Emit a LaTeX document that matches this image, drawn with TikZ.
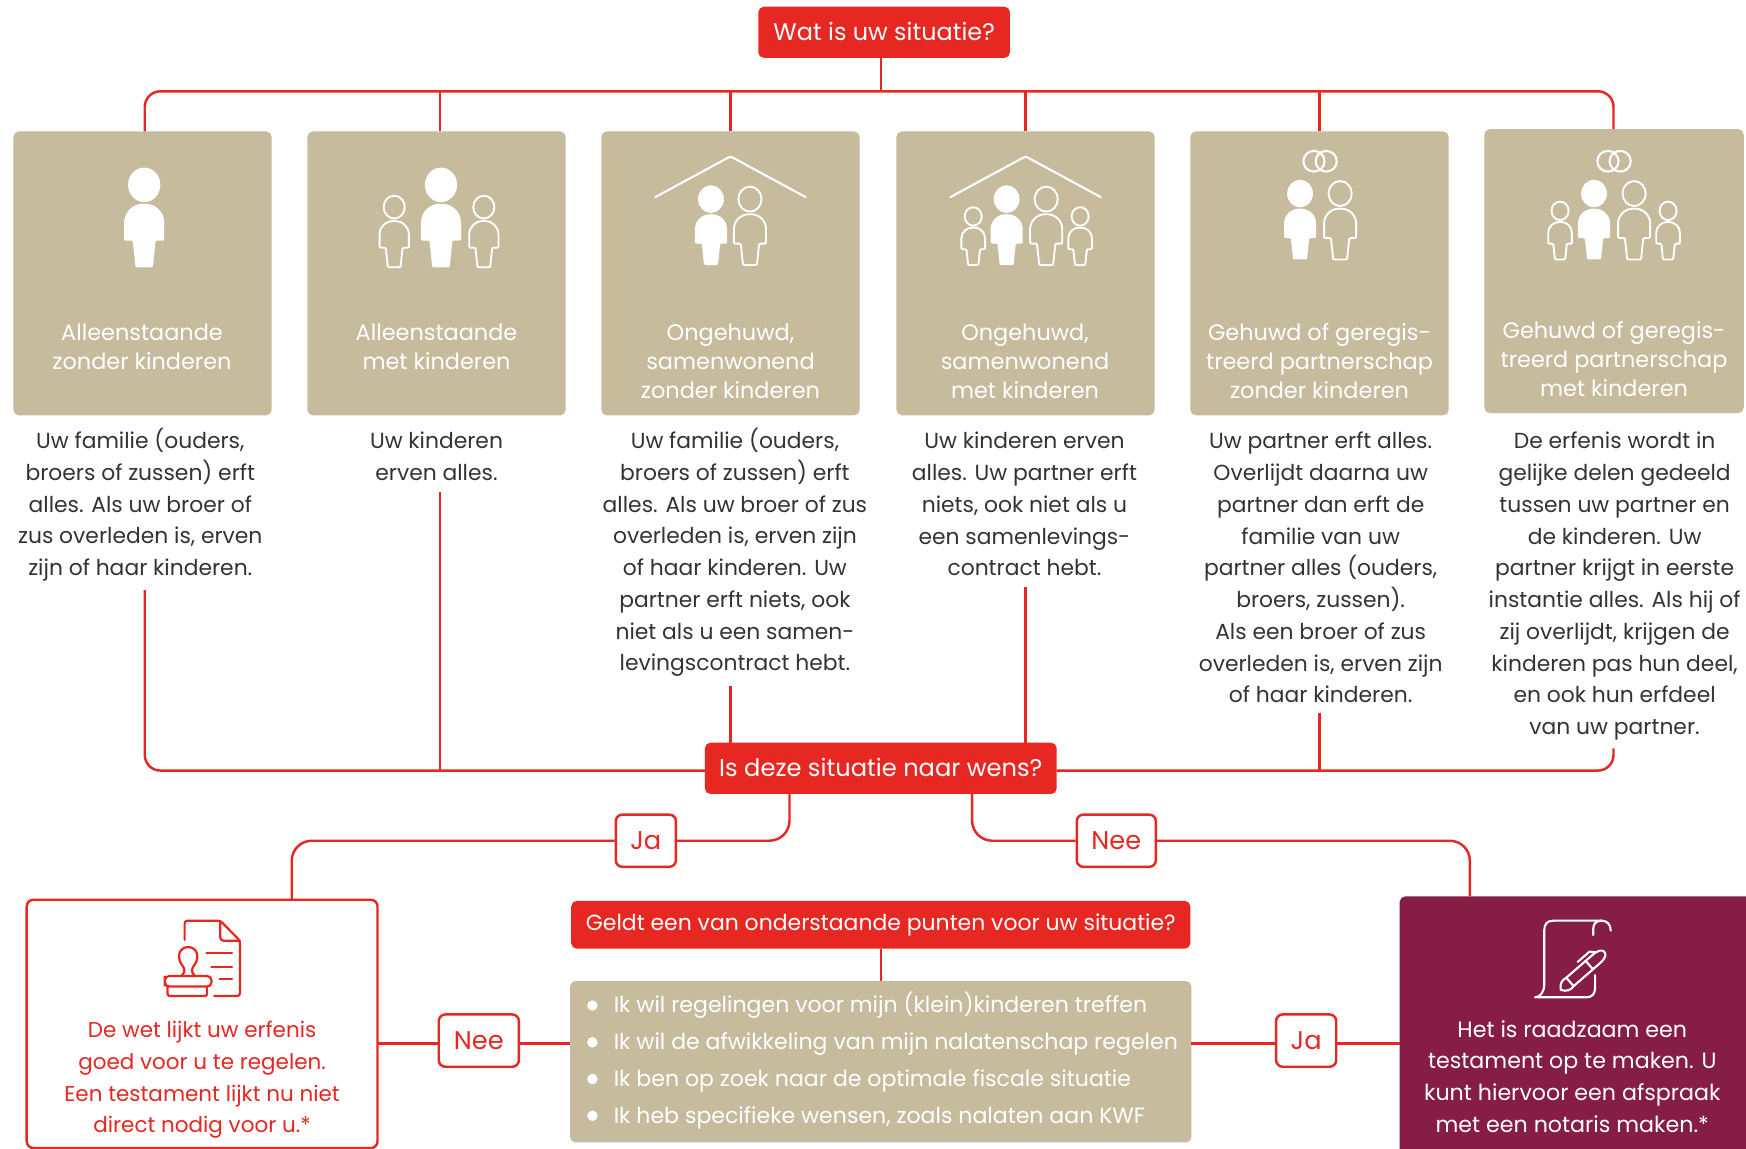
\documentclass[tikz,border=0pt]{standalone}
\usepackage{fontspec}
\setmainfont{Poppins}
\definecolor{rd}{HTML}{E62722}
\definecolor{tan}{HTML}{C7BB9D}
\definecolor{maroon}{HTML}{861D44}
\newcommand{\fz}[2]{\fontsize{#1}{#2}\selectfont}
\newcommand{\bodypath}{(-7.8,0) -- (-10.3,-24) -- (-18,-24) -- (-18,-39)
      .. controls (-18,-50) and (-10,-57) .. (0,-57)
      .. controls (10,-57) and (18,-50) .. (18,-39)
      -- (18,-24) -- (10.3,-24) -- (7.8,0) -- cycle}
\newcommand{\personicon}[3]{%
  \begin{scope}[shift={(#1,#2)},scale=#3]
    \path[solidp] (0,-74) ellipse [x radius=14.5,y radius=15.5];
    \path[solidp,rounded corners=1pt] \bodypath;
  \end{scope}}
\newcommand{\hollowicon}[3]{%
  \begin{scope}[shift={(#1,#2)},scale=#3]
    \path[hollowp] (0,-74) ellipse [x radius=13,y radius=14];
    \path[hollowp,rounded corners=1pt] \bodypath;
  \end{scope}}
\newcommand{\roof}[1]{\draw[iconline] (#1-67.5,177) -- (#1-2,141.5) -- (#1,141) -- (#1+2,141.5) -- (#1+67.5,177);}
\newcommand{\rings}[1]{\draw[iconline] (#1-5.5,144.8) ellipse [x radius=9.5,y radius=9.3];\draw[iconline] (#1+5.5,144.8) ellipse [x radius=9.5,y radius=9.3];}
\tikzset{
  conn/.style={draw=rd,line width=2.2pt},
  round/.style={conn,rounded corners=14pt},
  tanbox/.style={fill=tan,rounded corners=5pt,inner sep=0pt},
  redbox/.style={fill=rd,rounded corners=5pt,inner sep=0pt,text=white},
  tag/.style={draw=rd,line width=2.2pt,fill=white,rounded corners=6pt,inner sep=0pt,text=rd,font=\fz{23}{25}},
  ctitle/.style={text=white,align=center,inner sep=0pt,anchor=north,font=\fz{20.1}{26}},
  desc/.style={text=black!80,align=center,inner sep=0pt,anchor=north,font=\fz{19.6}{28.5}},
  res/.style={align=center,inner sep=0pt,anchor=north,font=\fz{19.3}{28.5}},
  lst/.style={text=white,inner sep=0pt,anchor=base west,font=\fz{19.8}{22}},
  solidp/.style={fill=white},
  hollowp/.style={draw=white,line width=1.7pt},
  iconline/.style={draw=white,line width=1.9pt,line cap=round,line join=round},
  redline/.style={draw=rd,line width=2pt,line cap=round,line join=round},
}
\begin{document}
\begin{tikzpicture}[x=1pt,y=-1pt]
\useasboundingbox (0,0) rectangle (1568,1031.8);
% boxes
\node[redbox,minimum width=226pt,minimum height=46pt,font=\fz{21.5}{25}] (top) at (794,29) {\raisebox{1pt}{Wat is uw situatie?}};
\foreach \n/\x in {b1/128,b2/392,b3/656,b4/921,b5/1185}
  \node[tanbox,minimum width=232pt,minimum height=255pt] (\n) at (\x,245.5) {};
\node[tanbox,minimum width=233pt,minimum height=255pt] (b6) at (1449.5,243.5) {};
% titles
\node[ctitle] (t1) at (127.5,290.5) {Alleenstaande\\zonder kinderen};
\node[ctitle] (t2) at (392,290.5) {Alleenstaande\\met kinderen};
\node[ctitle] (t3) at (656,290.5) {Ongehuwd,\\samenwonend\\zonder kinderen};
\node[ctitle] (t4) at (920.5,290.5) {Ongehuwd,\\samenwonend\\met kinderen};
\node[ctitle] (t5) at (1185,290.5) {Gehuwd of geregis-\\treerd partnerschap\\zonder kinderen};
\node[ctitle] (t6) at (1449.5,288.5) {Gehuwd of geregis-\\treerd partnerschap\\met kinderen};
% descriptions
\node[desc] (d1) at (126,384.5) {Uw familie (ouders,\\broers of zussen) erft\\alles. Als uw broer of\\zus overleden is, erven\\zijn of haar kinderen.};
\node[desc] (d2) at (392,388) {Uw kinderen\\erven alles.};
\node[desc] (d3) at (660,384.5) {Uw familie (ouders,\\broers of zussen) erft\\alles. Als uw broer of zus\\overleden is, erven zijn\\of haar kinderen. Uw\\partner erft niets, ook\\niet als u een samen-\\levingscontract hebt.};
\node[desc] (d4) at (920,388) {Uw kinderen erven\\alles. Uw partner erft\\niets, ook niet als u\\een samenlevings-\\contract hebt.};
\node[desc] (d5) at (1186,388) {Uw partner erft alles.\\Overlijdt daarna uw\\partner dan erft de\\familie van uw\\partner alles (ouders,\\broers, zussen).\\Als een broer of zus\\overleden is, erven zijn\\of haar kinderen.};
\node[desc] (d6) at (1450,388) {De erfenis wordt in\\gelijke delen gedeeld\\tussen uw partner en\\de kinderen. Uw\\partner krijgt in eerste\\instantie alles. Als hij of\\zij overlijdt, krijgen de\\kinderen pas hun deel,\\en ook hun erfdeel\\van uw partner.};
% decision and lower boxes
\node[redbox,minimum width=316pt,minimum height=46pt,font=\fz{21.7}{25}] (dec) at (791,690) {\raisebox{1pt}{Is deze situatie naar wens?}};
\node[tag,minimum width=54pt,minimum height=47pt] (ja1) at (580,755) {\raisebox{1pt}{Ja}};
\node[tag,minimum width=71pt,minimum height=47pt] (nee1) at (1002.5,755) {\raisebox{1pt}{Nee}};
\node[draw=rd,line width=2.2pt,fill=white,rounded corners=6pt,inner sep=0pt,minimum width=315pt,minimum height=223pt] (law) at (181.5,919.5) {};
\node[fill=maroon,rounded corners=5pt,inner sep=0pt,minimum width=316pt,minimum height=232pt] (tes) at (1415,921) {};
\node[res,text=rd] (lawt) at (181.5,917) {De wet lijkt uw erfenis\\goed voor u te regelen.\\Een testament lijkt nu niet\\direct nodig voor u.*};
\node[res,text=white,font=\fz{19.9}{28.5}] (test) at (1412,916) {Het is raadzaam een\\testament op te maken. U\\kunt hiervoor een afspraak\\met een notaris maken.*};
\node[redbox,minimum width=556pt,minimum height=43pt,font=\fz{19.7}{22}] (q) at (791,830.5) {\raisebox{-2pt}{Geldt een van onderstaande punten voor uw situatie?}};
\node[tanbox,minimum width=558pt,minimum height=145pt] (lst) at (791,953.5) {};
\node[tag,minimum width=72pt,minimum height=47pt] (nee2) at (430,934.5) {Nee};
\node[tag,minimum width=54pt,minimum height=47pt] (ja2) at (1173,934.5) {Ja};
\foreach \n/\y/\tx in {l1/903/Ik wil regelingen voor mijn (klein)kinderen treffen,l2/936/Ik wil de afwikkeling van mijn nalatenschap regelen,l3/969/Ik ben op zoek naar de optimale fiscale situatie,l4/1002/Ik heb specifieke wensen{,} zoals nalaten aan KWF}{
  \fill[white] (532,\y) circle [radius=4.7];
  \node[lst] (\n) at (551,\y+6.5) {\tx};
}
% named ends
\coordinate (bar) at (791,82);
\coordinate (c1) at (130,118);
\coordinate (c2) at (395,118);
\coordinate (c3) at (656,118);
\coordinate (c4) at (921,118);
\coordinate (c5) at (1185,118);
\coordinate (c6) at (1449,116);
\coordinate (e1) at (130,530);
\coordinate (e2) at (395,442);
\coordinate (e3) at (656,616);
\coordinate (e4) at (921,527);
\coordinate (e5) at (1185,640);
\coordinate (e6) at (1449,672);
\coordinate (dl) at (633,692);
\coordinate (dr) at (949,692);
\coordinate (dja) at (709,713);
\coordinate (dnee) at (873,713);
\coordinate (lawtop) at (262,808);
\coordinate (testop) at (1320,805);
\coordinate (lawr) at (339,937);
\coordinate (lstl) at (512,937);
\coordinate (lstr) at (1070,937);
\coordinate (tesl) at (1257,937);
% connectors
\draw[conn] (top.south -| bar) -- (bar);
\draw[round] (c1) |- (bar) -| (c6);
\foreach \c in {c2,c3,c4,c5} \draw[conn] (\c) -- (\c |- bar);
\draw[round] (e1) |- (dl);
\draw[round] (e6) |- (dr);
\draw[conn] (e2) -- (e2 |- dl);
\draw[conn] (e3) -- (e3 |- dec.north);
\draw[conn] (e4) -- (e4 |- dec.north);
\draw[conn] (e5) -- (e5 |- dl);
\draw[round,rounded corners=18pt] (dja) |- (ja1.east);
\draw[round,rounded corners=18pt] (ja1.west) -| (lawtop);
\draw[round,rounded corners=18pt] (dnee) |- (nee1.west);
\draw[round,rounded corners=18pt] (nee1.east) -| (testop);
\draw[conn] (q.south -| bar) -- (lst.north -| bar);
\draw[conn] (lawr) -- (nee2.west |- lawr);
\draw[conn] (nee2.east |- lawr) -- (lstl);
\draw[conn] (lstr) -- (ja2.west |- lstr);
\draw[conn] (ja2.east |- lstr) -- (tesl);
% icons
\personicon{129.5}{240}{1}
\personicon{396}{240}{1}
\hollowicon{354}{240}{.73}
\hollowicon{434.5}{240}{.73}
\roof{656}
\personicon{638.5}{238}{.8}
\hollowicon{673.5}{238}{.8}
\roof{921}
\personicon{904}{238}{.8}
\hollowicon{939.5}{238}{.8}
\hollowicon{874}{238}{.59}
\hollowicon{970}{238}{.59}
\rings{1185.5}
\personicon{1167.5}{233}{.8}
\hollowicon{1203.5}{233}{.8}
\rings{1449.5}
\personicon{1431.5}{233}{.8}
\hollowicon{1467.5}{233}{.8}
\hollowicon{1401}{233}{.59}
\hollowicon{1498}{233}{.59}
% document and stamp
\draw[redline,rounded corners=2.5pt] (165.8,844) -- (165.8,826.8) -- (197.8,826.8) -- (215.5,844.8) -- (215.5,894.5) -- (192.4,894.5);
\draw[redline,rounded corners=3pt] (197.8,826.8) -- (197.8,844.8) -- (215.5,844.8);
\draw[redline] (185.4,856) -- (208.5,856) (189.9,868.1) -- (208.5,868.1) (197.2,879) -- (208.5,879);
\draw[redline] (163,876.5) .. controls (167,872) and (166,870) .. (163,866) .. controls (158,858) and (162,850.5) .. (169,850.5) .. controls (176,850.5) and (180,858) .. (175,866) .. controls (172,870) and (171,872) .. (175,876.5);
\draw[redline,rounded corners=4pt] (148,881) -- (148,876.5) -- (190,876.5) -- (190,886) -- (148,886) -- cycle;
\draw[redline,rounded corners=2pt] (150.5,886) -- (150.5,894.5) -- (186,894.5) -- (186,886);
% scroll and pen
\draw[iconline] (1438.4,826.8) -- (1395,826.8) .. controls (1389,826.8) and (1386.8,830) .. (1386.8,836) -- (1386.8,884) .. controls (1386.8,891) and (1383,895.6) .. (1378.6,895.6) -- (1425,895.6) .. controls (1430,895.6) and (1432.5,892) .. (1432.5,887) -- (1432.5,875.6);
\draw[iconline] (1430.8,839.7) -- (1430.8,834) .. controls (1430.8,829) and (1434,826.8) .. (1438.4,826.8) .. controls (1443,826.8) and (1446.5,830) .. (1446.5,835.8);
\begin{scope}[shift={(1401.6,889)},rotate=41]
  \draw[iconline] (0,0) .. controls (3,-5) and (7,-6) .. (11,-5) -- (42,-5) .. controls (49,-5) and (52,-3) .. (52,0) .. controls (52,3) and (49,5) .. (42,5) -- (11,5) .. controls (7,6) and (3,5) .. (0,0) -- cycle;
  \draw[iconline] (11,-5) -- (11,5) (34,-5) -- (34,5);
  \draw[iconline] (28,-9) -- (42,-9) -- (46,-5);
\end{scope}
\end{tikzpicture}
\end{document}
